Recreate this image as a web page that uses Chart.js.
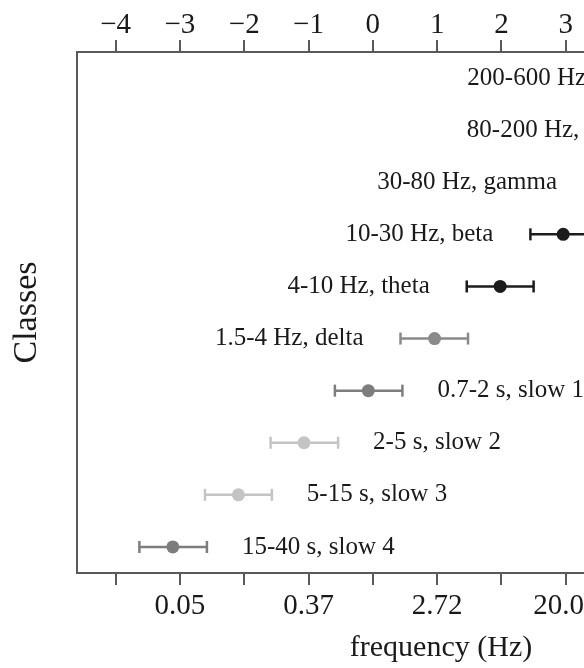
<!DOCTYPE html>
<html>
<head>
<meta charset="utf-8">
<script src="https://cdn.jsdelivr.net/npm/chart.js@4"></script>
<style>
  html, body { margin: 0; padding: 0; background: #fff; overflow: hidden; }
  #wrap { width: 820px; height: 668px; }
</style>
</head>
<body>
<div id="wrap"><canvas id="bands" width="820" height="668"></canvas></div>
<script>
// rows from bottom (index 0) to top
const classes = [
  "15-40 s, slow 4", "5-15 s, slow 3", "2-5 s, slow 2", "0.7-2 s, slow 1",
  "1.5-4 Hz, delta", "4-10 Hz, theta", "10-30 Hz, beta", "30-80 Hz, gamma",
  "80-200 Hz, ripple", "200-600 Hz, fast ripple"
];
// ln(frequency) of each class: centre and error bar ends
const logFreq = [-3.11, -2.09, -1.07, -0.07, 0.96, 1.98, 2.96, 3.96, 5.30, 6.15];
const lower   = [-3.63, -2.61, -1.59, -0.59, 0.43, 1.46, 2.45, 3.44, 4.79, 5.65];
const upper   = [-2.58, -1.57, -0.54, 0.46, 1.48, 2.50, 3.47, 4.48, 5.81, 6.66];
const shades  = ["#7d7d7d", "#c4c4c4", "#c4c4c4", "#7d7d7d", "#8a8a8a",
                 "#1c1c1c", "#1c1c1c", "#1c1c1c", "#1c1c1c", "#1c1c1c"];
const labelSide = ["right", "right", "right", "right", "left",
                   "left", "left", "left", "left", "left"];

// bottom axis shows frequency in Hz at odd ln values
const hzTickValues = [-3, -1, 1, 3, 5];
const hzTickLabels = ["0.05", "0.37", "2.72", "20.09", "148.41"];

const serif = "'Liberation Serif', 'Times New Roman', serif";
const axisColor = "#5a5a5a";

const rowLabels = {
  id: "rowLabels",
  afterDatasetsDraw(chart) {
    const ctx = chart.ctx;
    const xs = chart.scales.x;
    const ys = chart.scales.y;
    ctx.save();
    ctx.font = "25px " + serif;
    ctx.fillStyle = "#1a1a1a";
    ctx.textBaseline = "middle";
    classes.forEach((name, i) => {
      const y = ys.getPixelForValue(i);
      if (labelSide[i] === "left") {
        ctx.textAlign = "right";
        ctx.fillText(name, xs.getPixelForValue(lower[i]) - 37, y);
      } else {
        ctx.textAlign = "left";
        ctx.fillText(name, xs.getPixelForValue(upper[i]) + 35, y);
      }
    });
    ctx.restore();
  },
};

let datasets = classes.map((name, i) => ({
  label: name,
  data: [{ x: lower[i], y: i }, { x: upper[i], y: i }],
  showLine: true,
  borderColor: shades[i],
  borderWidth: 2.5,
  pointStyle: "line",
  rotation: 90,
  pointRadius: 6,
  pointBorderWidth: 2.5,
  pointBorderColor: shades[i],
}));

datasets.push({
  label: "centre",
  data: logFreq.map((v, i) => ({ x: v, y: i })),
  showLine: false,
  pointRadius: 6.5,
  pointBorderWidth: 0,
  pointBackgroundColor: shades,
});

const tickFont = { family: serif, size: 29 };

function xAxis(position, height, callback) {
  return {
    type: "linear",
    position: position,
    min: -4.6,
    max: 6.72,
    grid: {
      display: true,
      drawOnChartArea: false,
      drawTicks: true,
      tickLength: 12,
      color: axisColor,
      lineWidth: 2,
    },
    border: { display: true, color: axisColor, width: 2 },
    ticks: {
      stepSize: 1,
      includeBounds: false,
      autoSkip: false,
      maxRotation: 0,
      padding: position === "top" ? -3 : 4,
      color: "#1a1a1a",
      font: tickFont,
      callback: callback,
    },
    afterFit: (scale) => { scale.height = height; },
  };
}

new Chart(document.getElementById("bands"), {
  type: "scatter",
  data: { datasets: datasets },
  options: {
    responsive: false,
    animation: false,
    layout: { padding: 0 },
    plugins: {
      legend: { display: false },
      tooltip: { enabled: false },
    },
    scales: {
      x: Object.assign(xAxis("bottom", 95, (v) => {
        const k = hzTickValues.indexOf(v);
        return k >= 0 ? hzTickLabels[k] : "";
      }), {
        title: {
          display: true,
          text: "frequency (Hz)",
          color: "#1a1a1a",
          font: { family: serif, size: 30 },
          padding: { top: 0, bottom: 2 },
        },
      }),
      x2: xAxis("top", 52, (v) => (v < 0 ? "\u2212" + Math.abs(v) : String(v))),
      y: {
        type: "linear",
        min: -0.5,
        max: 9.5,
        grid: { display: false },
        border: { display: true, color: axisColor, width: 2 },
        ticks: { display: false },
        title: {
          display: true,
          text: "Classes",
          color: "#1a1a1a",
          font: { family: serif, size: 34 },
          padding: { top: 7, bottom: 0 },
        },
        afterFit: (scale) => { scale.width = 77; },
      },
      y2: {
        type: "linear",
        position: "right",
        min: -0.5,
        max: 9.5,
        grid: { display: false },
        border: { display: true, color: axisColor, width: 2 },
        ticks: { display: false },
        afterFit: (scale) => { scale.width = 15; },
      },
    },
  },
  plugins: [rowLabels],
});
</script>
</body>
</html>
